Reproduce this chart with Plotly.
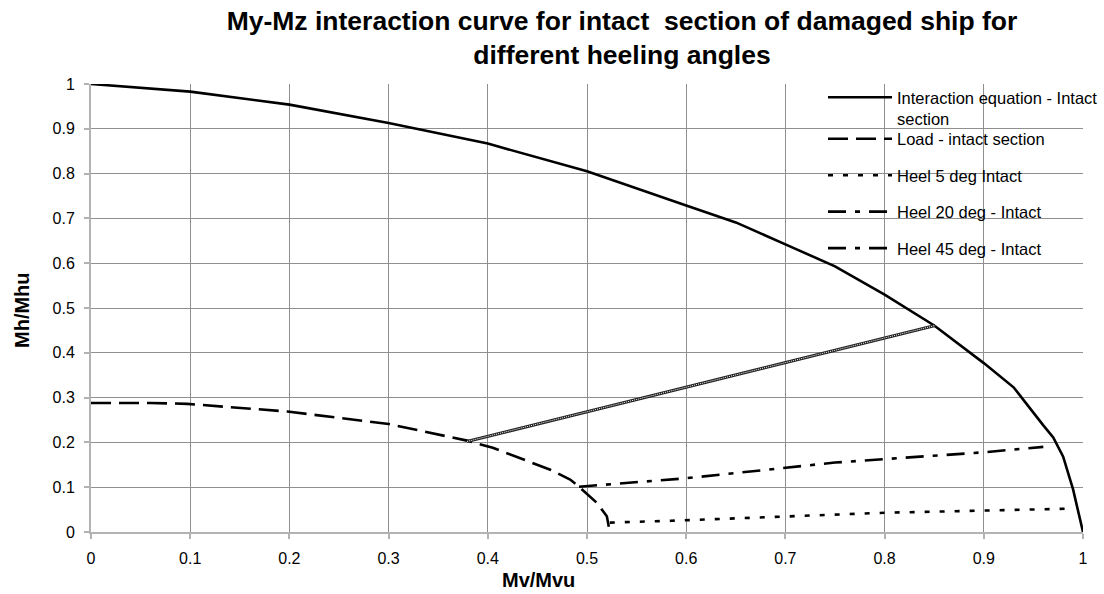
import plotly.graph_objects as go

# ---- data ----
interaction_x = [0, 0.1, 0.2, 0.3, 0.4, 0.5, 0.6, 0.65, 0.7, 0.75, 0.8, 0.85, 0.9, 0.93, 0.96, 0.97, 0.98, 0.99, 1.0]
interaction_y = [1.0, 0.983, 0.954, 0.913, 0.867, 0.805, 0.729, 0.691, 0.642, 0.593, 0.53, 0.461, 0.377, 0.323, 0.238, 0.211, 0.168, 0.095, 0.0]

load_x = [0, 0.06, 0.097, 0.198, 0.30, 0.379, 0.405, 0.432, 0.463, 0.483, 0.492, 0.51, 0.52, 0.523]
load_y = [0.288, 0.288, 0.286, 0.269, 0.241, 0.204, 0.188, 0.166, 0.139, 0.117, 0.101, 0.065, 0.035, 0.0]

heel5_x = [0.523, 0.585, 0.80, 0.986]
heel5_y = [0.021, 0.025, 0.043, 0.052]

heel20_x = [0.492, 0.6, 0.75, 0.9, 0.96]
heel20_y = [0.101, 0.12, 0.155, 0.178, 0.19]

heel45_x = [0.379, 0.851]
heel45_y = [0.202, 0.461]

legend_names = ["Interaction equation - Intact<br>section", "Load - intact section",
                "Heel 5 deg Intact", "Heel 20 deg - Intact", "Heel 45 deg - Intact"]

x_ticks = [0, 0.1, 0.2, 0.3, 0.4, 0.5, 0.6, 0.7, 0.8, 0.9, 1]
x_tick_text = ["0", "0.1", "0.2", "0.3", "0.4", "0.5", "0.6", "0.7", "0.8", "0.9", "1"]
y_ticks = [0, 0.1, 0.2, 0.3, 0.4, 0.5, 0.6, 0.7, 0.8, 0.9, 1]
y_tick_text = ["0", "0.1", "0.2", "0.3", "0.4", "0.5", "0.6", "0.7", "0.8", "0.9", "1"]

FONT = "Liberation Sans, Arial, sans-serif"
LW = 2.6

fig = go.Figure()

fig.add_trace(go.Scatter(x=interaction_x, y=interaction_y, mode="lines", name=legend_names[0],
                         line=dict(color="black", width=LW), legend="legend", legendgroup="g1"))
fig.add_trace(go.Scatter(x=load_x, y=load_y, mode="lines", name=legend_names[1],
                         line=dict(color="black", width=LW, dash="20px,8px"), legend="legend2", legendgroup="g2"))
fig.add_trace(go.Scatter(x=heel5_x, y=heel5_y, mode="lines", name=legend_names[2],
                         line=dict(color="black", width=LW, dash="5px,10px"), legend="legend2", legendgroup="g3"))
fig.add_trace(go.Scatter(x=heel20_x, y=heel20_y, mode="lines", name=legend_names[3],
                         line=dict(color="black", width=LW, dash="18px,9px,5px,9px"), legend="legend2", legendgroup="g4"))
# heel 45: hatched look on the chart, dash-dot symbol in the legend
fig.add_trace(go.Scatter(x=heel45_x, y=heel45_y, mode="lines", showlegend=False,
                         line=dict(color="#222222", width=3), hoverinfo="skip"))
fig.add_trace(go.Scatter(x=heel45_x, y=heel45_y, mode="lines", showlegend=False,
                         line=dict(color="white", width=1, dash="1px,1px"), hoverinfo="skip"))
fig.add_trace(go.Scatter(x=[None], y=[None], mode="lines", name=legend_names[4],
                         line=dict(color="black", width=LW, dash="18px,9px,5px,9px"), legend="legend2", legendgroup="g5"))

axis_common = dict(
    range=[0, 1], showgrid=True, gridcolor="#8f8f8f", gridwidth=1,
    showline=True, linecolor="#b3b3b3", linewidth=2, zeroline=False,
    ticks="outside", ticklen=5, tickcolor="#b3b3b3", tickwidth=1.5,
    tickfont=dict(family=FONT, size=16, color="black"), fixedrange=True,
)

LEG_X = (823 - 91) / 992

fig.update_layout(
    width=1104, height=594, autosize=False,
    margin=dict(l=91, r=21, t=84, b=62, autoexpand=False),
    paper_bgcolor="white", plot_bgcolor="white",
    title=dict(text="<b>My-Mz interaction curve for intact\u00a0 section of damaged ship for<br>different heeling angles</b>",
               font=dict(family=FONT, size=26.5, color="black"),
               xref="container", x=622 / 1104, xanchor="center",
               yref="container", y=1 - 30 / 594, yanchor="top"),
    xaxis=dict(axis_common, tickvals=x_ticks, ticktext=x_tick_text, ticklabelstandoff=6),
    yaxis=dict(axis_common, tickvals=y_ticks, ticktext=y_tick_text, ticklabelstandoff=6),
    showlegend=True,
    legend=dict(x=LEG_X, xanchor="left", y=(532 - 80) / 448, yanchor="top",
                bgcolor="rgba(0,0,0,0)", borderwidth=0, valign="top",
                font=dict(family=FONT, size=16.5, color="black"), itemwidth=64),
    legend2=dict(x=LEG_X, xanchor="left", y=(532 - 121.5) / 448, yanchor="top",
                 bgcolor="rgba(0,0,0,0)", borderwidth=0, tracegroupgap=12,
                 font=dict(family=FONT, size=16.5, color="black"), itemwidth=64),
    shapes=[dict(type="rect", xref="paper", yref="paper",
                 x0=(801 - 91) / 992, x1=1.03, y0=(532 - 270) / 448, y1=(532 - 87) / 448,
                 fillcolor="white", line=dict(width=0), layer="between")],
    annotations=[
        dict(text="<b>Mv/Mvu</b>", xref="paper", yref="paper", x=(538 - 91) / 992, y=(532 - 580) / 448,
             xanchor="center", yanchor="middle", showarrow=False,
             font=dict(family=FONT, size=20, color="black")),
        dict(text="<b>Mh/Mhu</b>", xref="paper", yref="paper", x=(22 - 91) / 992, y=(532 - 310) / 448,
             xanchor="center", yanchor="middle", showarrow=False, textangle=-90,
             font=dict(family=FONT, size=20, color="black")),
    ],
)

fig.write_html("out.html")
